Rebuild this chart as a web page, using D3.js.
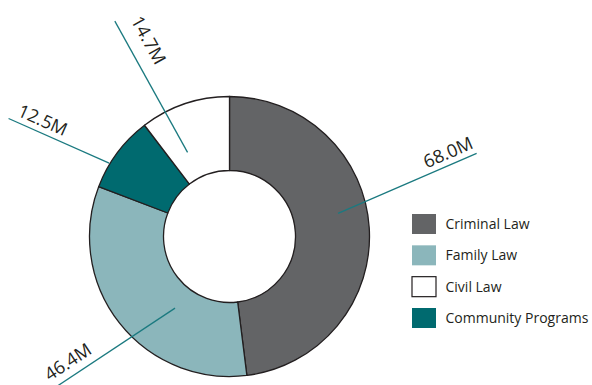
<!DOCTYPE html>
<html>
<head>
<meta charset="utf-8">
<script src="https://cdn.jsdelivr.net/npm/d3@7"></script>
<style>
  html, body { margin: 0; padding: 0; background: #fff; }
  svg { display: block; }
  text { font-family: "Open Sans", "Noto Sans", sans-serif; fill: #231f20; }
</style>
</head>
<body>
<svg id="chart" width="592" height="385"></svg>
<script>
// Budget by program area (millions)
const categories = ["Criminal Law", "Family Law", "Community Programs", "Civil Law"];
const values = [68.0, 46.4, 12.5, 14.7];
const valueLabels = ["68.0M", "46.4M", "12.5M", "14.7M"];
const legendOrder = ["Criminal Law", "Family Law", "Civil Law", "Community Programs"];

const colors = d3.scaleOrdinal()
  .domain(categories)
  .range(["#636466", "#8bb6bb", "#006a6f", "#ffffff"]);

// Leader-line placement per slice: where the line starts inside the slice
// (fraction of its sweep, radius), the direction/length it runs outward,
// and how the value label sits against the line's outer end.
const leaderLayout = [
  { frac: 0.451, r: 111, dir: -23.4, len: 151, inset: 0, gap: 6 },
  { frac: 0.376, r: 90,  dir: 146.5, len: 146, inset: 1, gap: 8 },
  { frac: 0.332, r: 141, dir: 203.9, len: 110, inset: 6, gap: 6 },
  { frac: 0.291, r: 94,  dir: 241.0, len: 150, inset: 7, gap: 14 }
];

const svg = d3.select("#chart");
const cx = 229.5, cy = 236.5;
const outerR = 140, innerR = 66;

const pie = d3.pie().sort(null).value(d => d.value);
const slices = pie(categories.map((c, i) => ({ name: c, value: values[i], label: valueLabels[i] })));

const arc = d3.arc().innerRadius(innerR).outerRadius(outerR);

const g = svg.append("g").attr("transform", `translate(${cx},${cy})`);

g.selectAll("path.slice")
  .data(slices)
  .join("path")
  .attr("class", "slice")
  .attr("d", arc)
  .attr("fill", d => colors(d.data.name))
  .attr("stroke", "#231f20")
  .attr("stroke-width", 1.3)
  .attr("stroke-linejoin", "round");

// Leader lines and value labels
const leaders = slices.map((s, i) => {
  const L = leaderLayout[i];
  const a = s.startAngle + L.frac * (s.endAngle - s.startAngle);
  const x0 = Math.sin(a) * L.r, y0 = -Math.cos(a) * L.r;
  const rad = L.dir * Math.PI / 180;
  const x1 = x0 + Math.cos(rad) * L.len, y1 = y0 + Math.sin(rad) * L.len;
  return { s, L, x0, y0, x1, y1, rad };
});

g.selectAll("line.leader")
  .data(leaders)
  .join("line")
  .attr("class", "leader")
  .attr("x1", d => d.x0).attr("y1", d => d.y0)
  .attr("x2", d => d.x1).attr("y2", d => d.y1)
  .attr("stroke", "#1b7a80")
  .attr("stroke-width", 1.3);

g.selectAll("text.value")
  .data(leaders)
  .join("text")
  .attr("class", "value")
  .attr("font-size", 18)
  .attr("text-anchor", d => (d.x1 < d.x0 ? "start" : "end"))
  .attr("transform", d => {
    let deg = d.rad * 180 / Math.PI;
    if (deg > 90) deg -= 180;
    if (deg <= -90) deg += 180;
    const ux = -Math.cos(d.rad), uy = -Math.sin(d.rad);
    const px = d.x1 + ux * d.L.inset, py = d.y1 + uy * d.L.inset;
    return `translate(${px},${py}) rotate(${deg})`;
  })
  .attr("y", d => -d.L.gap)
  .text(d => d.s.data.label);

// Legend
const legend = svg.append("g").attr("transform", "translate(412,214)");
const rowStep = d3.scalePoint().domain(legendOrder).range([0, 94]);

const rows = legend.selectAll("g.row")
  .data(legendOrder)
  .join("g")
  .attr("class", "row")
  .attr("transform", d => `translate(0,${rowStep(d)})`);

rows.append("rect")
  .attr("width", 24).attr("height", 20)
  .attr("fill", d => colors(d))
  .attr("stroke", d => d === "Civil Law" ? "#231f20" : "none")
  .attr("stroke-width", 1.2);

rows.append("text")
  .attr("x", 33.5).attr("y", 10)
  .attr("dy", "0.35em")
  .attr("font-size", 14)
  .text(d => d);
</script>
</body>
</html>
